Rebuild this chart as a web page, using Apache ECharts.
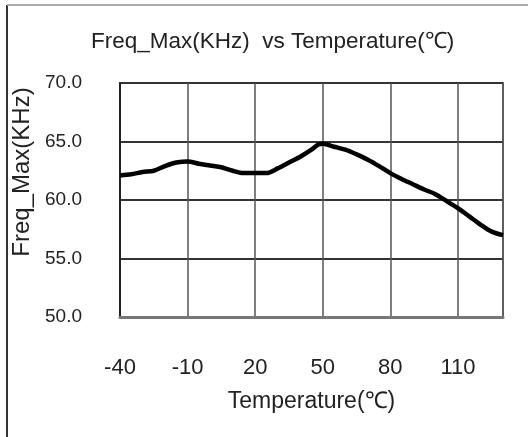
<!DOCTYPE html>
<html>
<head>
<meta charset="utf-8">
<script src="https://cdn.jsdelivr.net/npm/echarts@6/dist/echarts.min.js"></script>
<style>
html,body{margin:0;padding:0;background:#fff;}
#chart{width:528px;height:437px;}
</style>
</head>
<body>
<div id="chart"></div>
<script>
const temperatures = [-40,-35,-30,-25,-20,-15,-10,-5,0,5,10,15,20,25,30,35,40,45,48,50,55,60,65,70,75,80,85,90,95,100,105,110,115,120,125,130];
const freqMax = [62.1,62.2,62.4,62.5,62.9,63.2,63.3,63.1,62.95,62.8,62.5,62.3,62.3,62.3,62.7,63.2,63.7,64.3,64.75,64.8,64.55,64.3,63.9,63.45,62.9,62.3,61.8,61.35,60.9,60.5,59.9,59.3,58.6,57.9,57.3,57.0];
const xTicks = [-40,-10,20,50,80,110];
const yTicks = [50,55,60,65,70];

const chart = echarts.init(document.getElementById('chart'), null, {renderer:'canvas'});
const fontFam = '"Liberation Sans", Arial, sans-serif';
chart.setOption({
  animation:false,
  backgroundColor:'#fff',
  title:{
    text:'Freq_Max(KHz)  vs Temperature(℃)',
    left:86, top:25,
    textStyle:{fontFamily:fontFam,fontSize:22.5,fontWeight:'normal',color:'#222'}
  },
  graphic:[
    {type:'line',shape:{x1:7,y1:5,x2:7,y2:437},style:{stroke:'#333',lineWidth:2}},
    {type:'line',shape:{x1:7,y1:5,x2:528,y2:5},style:{stroke:'#aaa',lineWidth:2}}
  ],
  grid:{left:120,right:25,top:83,bottom:120,show:true,borderColor:'#777',borderWidth:2},
  xAxis:{
    type:'value',min:xTicks[0],max:130,interval:30,
    name:'Temperature(℃)',nameLocation:'middle',nameGap:73,
    nameTextStyle:{fontFamily:fontFam,fontSize:23,color:'#222'},
    axisLine:{show:true,onZero:false,lineStyle:{color:'#777',width:3}},
    axisTick:{show:false},
    axisLabel:{showMaxLabel:false,margin:40,fontFamily:fontFam,fontSize:22,color:'#222'},
    splitLine:{show:true,lineStyle:{color:'#555',width:1.5}}
  },
  yAxis:{
    type:'value',min:yTicks[0],max:yTicks[yTicks.length-1],interval:5,
    name:'Freq_Max(KHz)',nameLocation:'middle',nameGap:83,
    nameTextStyle:{fontFamily:fontFam,fontSize:24,color:'#222',padding:[0,0,0,56]},
    axisLine:{show:true,onZero:false,lineStyle:{color:'#222',width:2}},
    axisTick:{show:false},
    axisLabel:{margin:38,fontFamily:fontFam,fontSize:19,color:'#222',formatter:v=>v.toFixed(1)},
    splitLine:{show:true,lineStyle:{color:'#333',width:1.8}}
  },
  series:[{
    type:'line',
    data:temperatures.map((t,i)=>[t,freqMax[i]]),
    showSymbol:false,smooth:0.3,
    lineStyle:{color:'#000',width:4.5}
  }]
});
</script>
</body>
</html>
